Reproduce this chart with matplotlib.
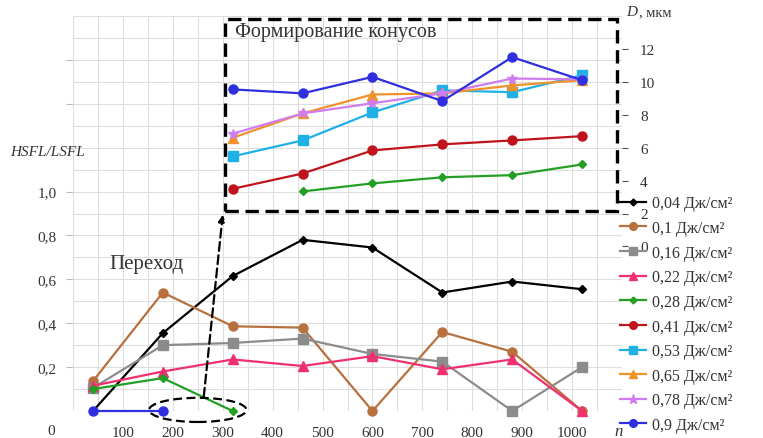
import matplotlib
matplotlib.use("Agg")
import matplotlib.pyplot as plt
import numpy as np
from matplotlib.lines import Line2D
from matplotlib.patches import Ellipse, Rectangle
from matplotlib.ticker import MultipleLocator

plt.rcParams['font.family'] = ['Liberation Serif', 'DejaVu Serif']

# ---- data: HSFL/LSFL ratio (left axis) ----
n_main = [40, 180, 320, 460, 600, 740, 880, 1020]
r_004 = [0, 0.355, 0.615, 0.78, 0.745, 0.54, 0.59, 0.555]
r_01 = [0.136, 0.54, 0.386, 0.38, 0, 0.36, 0.27, 0]
r_016 = [0.105, 0.30, 0.31, 0.33, 0.26, 0.225, 0, 0.2]
r_022 = [0.115, 0.18, 0.235, 0.205, 0.25, 0.19, 0.235, 0]
n_028 = [40, 180, 320]
r_028 = [0.10, 0.15, 0]
n_09 = [40, 180]
r_09 = [0, 0]

# ---- data: cone diameter D, мкм (right axis) ----
n_d = [320, 460, 600, 740, 880, 1020]
d_028 = [np.nan, 3.34, 3.83, 4.2, 4.33, 4.98]
d_041 = [3.5, 4.43, 5.83, 6.2, 6.44, 6.7]
d_053 = [5.47, 6.44, 8.14, 9.48, 9.37, 10.4]
d_065 = [6.6, 8.08, 9.23, 9.3, 9.78, 10.1]
d_078 = [6.85, 8.08, 8.7, 9.3, 10.2, 10.15]
d_09 = [9.54, 9.3, 10.3, 8.83, 11.5, 10.1]

labels = ['0,04 Дж/см²', '0,1 Дж/см²', '0,16 Дж/см²', '0,22 Дж/см²', '0,28 Дж/см²',
          '0,41 Дж/см²', '0,53 Дж/см²', '0,65 Дж/см²', '0,78 Дж/см²', '0,9 Дж/см²']
colors = ['#000000', '#b8703e', '#8c8c8c', '#f0306e', '#23a023',
          '#c0141c', '#1fb0e6', '#f0922a', '#cf7cf0', '#2f2fe0']
markers = ['D', 'o', 's', '^', 'D', 'o', 's', '^', '*', 'o']
msizes = [4.5, 6.5, 6.5, 6.5, 4.5, 6.5, 6.5, 6.5, 7.5, 6.5]

W, H = 763, 439
fig = plt.figure(figsize=(W / 100, H / 100), dpi=100)
ax = fig.add_axes([73 / W, 1 - 412 / H, (622 - 73) / W, (412 - 17) / H])

ax.set_xlim(0, 1100)
ax.set_ylim(0, 1.8)
ax.xaxis.set_major_locator(MultipleLocator(100))
ax.xaxis.set_minor_locator(MultipleLocator(50))
ax.yaxis.set_major_locator(MultipleLocator(0.2))
ax.yaxis.set_minor_locator(MultipleLocator(0.1))
ax.grid(True, which='both', color='#dedede', lw=0.8)
ax.set_axisbelow(True)
for s in ax.spines.values():
    s.set_visible(False)

xt = list(range(100, 1001, 100))
ax.set_xticks(xt)
ax.set_xticklabels([str(v) for v in xt])
ax.tick_params(axis='x', which='both', length=0, pad=11, labelsize=11, labelcolor='#333333')
yt = [0.2, 0.4, 0.6, 0.8, 1.0, 1.2, 1.4, 1.6]
ax.set_yticks(yt)
ax.set_yticklabels(['0,2', '0,4', '0,6', '0,8', '1,0', '', '', ''])
ax.tick_params(axis='y', which='major', length=5, color='#bbbbbb', pad=7, labelsize=11,
               labelcolor='#333333')
ax.tick_params(axis='y', which='minor', length=0)

lw = 1.6
series_main = [(n_main, r_004), (n_main, r_01), (n_main, r_016), (n_main, r_022), (n_028, r_028)]
for i, (xx, yy) in enumerate(series_main):
    ax.plot(xx, yy, color=colors[i], marker=markers[i], ms=msizes[i], lw=lw, clip_on=False, zorder=3)
ax.plot(n_09, r_09, color=colors[9], marker=markers[9], ms=msizes[9], lw=lw, clip_on=False, zorder=3)

ax2 = ax.twinx()
ax2.set_ylim(-10, 14)
for s in ax2.spines.values():
    s.set_visible(False)
ax2.set_yticks([0, 2, 4, 6, 8, 10, 12])
ax2.set_yticklabels(['0', '2', '4', '6', '8', '10', '12'])
ax2.tick_params(axis='y', length=4, color='#555555', pad=9, labelsize=11, labelcolor='#333333')
inset = [(d_028, 4), (d_041, 5), (d_053, 6), (d_065, 7), (d_078, 8), (d_09, 9)]
for yy, i in inset:
    ax2.plot(n_d, yy, color=colors[i], marker=markers[i], ms=msizes[i], lw=lw, zorder=3)

# legend
handles = [Line2D([], [], color=colors[i], marker=markers[i], ms=msizes[i] - 1, lw=1.6)
           for i in range(10)]
fig.legend(handles, labels, loc='upper left', bbox_to_anchor=(614 / W, 1 - 190 / H),
           frameon=False, fontsize=11.5, handlelength=1.6, handletextpad=0.35,
           labelspacing=0.54, borderaxespad=0, labelcolor='#333333')

# axis labels
fig.text(10 / W, 1 - 152 / H, 'HSFL/LSFL', fontsize=11, style='italic', va='center',
         color='#333333')
fig.text(47 / W, 1 - 432 / H, '0', fontsize=11, va='center', color='#333333')
fig.text(614 / W, 1 - 432 / H, 'n', fontsize=12, style='italic', va='center', color='#333333')
fig.text(626 / W, 1 - 13 / H, 'D', fontsize=11, style='italic', va='center', color='#333333')
fig.text(639 / W, 1 - 13 / H, ', мкм', fontsize=10.5, va='center', color='#333333')

# annotations
fig.text(235 / W, 1 - 33 / H, 'Формирование конусов', fontsize=14.5, va='center', color='#333333')
fig.text(109 / W, 1 - 265 / H, 'Переход', fontsize=15, va='center', color='#333333')

ax.add_patch(Rectangle((304, 0.91), 1090 - 304, 1.785 - 0.91, fill=False, ec='black',
                       lw=2.4, ls=(0, (4, 2)), zorder=5, clip_on=False))
ax.add_patch(Ellipse((250, 0.005), 195, 0.11, fill=False, ec='black', lw=1.6,
                     ls=(0, (4, 2)), zorder=5, clip_on=False))
ax.annotate('', xy=(300, 0.895), xytext=(262, 0.065),
            arrowprops=dict(arrowstyle='-|>', color='black', lw=1.6, ls=(0, (4, 2)),
                            mutation_scale=10, shrinkA=0, shrinkB=0), zorder=5)

fig.savefig('out.png', dpi=100)
